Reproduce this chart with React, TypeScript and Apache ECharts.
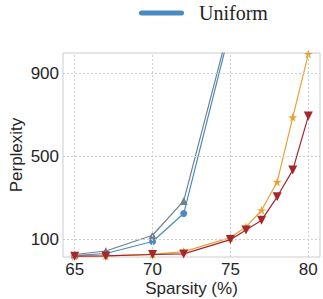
import React, { useEffect, useRef } from "react";
import * as echarts from "echarts";

const xTicks = [65, 70, 75, 80];
const yTicks = [100, 500, 900];

const uniformX = [65, 67, 70, 72, 75];
const uniformY = [21, 31, 89, 224, 1120];

const grayX = [65, 67, 70, 72, 75];
const grayY = [26, 43, 119, 285, 1150];

const orangeX = [65, 67, 70, 72, 75, 76, 77, 78, 79, 80];
const orangeY = [18, 19, 27, 40, 108, 160, 240, 377, 689, 995];

const redX = [65, 67, 70, 72, 75, 76, 77, 78, 79, 80];
const redY = [18, 19, 26, 29, 98, 144, 192, 305, 434, 695];

const pairs = (xs: number[], ys: number[]) => xs.map((x, i) => [x, ys[i]]);

const SANS = "Liberation Sans";
const SERIF = "Liberation Serif";

export default function App() {
  const ref = useRef<HTMLDivElement>(null);
  useEffect(() => {
    if (!ref.current) return;
    const chart = echarts.init(ref.current, null, { renderer: "svg" });
    const gridStyle = { color: "#cfcfcf", width: 1, type: [2, 2] as any };
    chart.setOption({
      animation: false,
      backgroundColor: "#ffffff",
      legend: {
        data: ["Uniform"],
        left: 134,
        top: -2,
        itemWidth: 45,
        itemHeight: 5,
        icon: "path://M2.5,0 L42.5,0 A2.5,2.5 0 0 1 42.5,5 L2.5,5 A2.5,2.5 0 0 1 2.5,0 Z",
        textStyle: {
          fontFamily: SERIF,
          fontSize: 20,
          color: "#222222",
          padding: [0, 0, 0, 10],
        },
      },
      grid: {
        left: 63,
        top: 53,
        right: 3,
        bottom: 42,
        show: true,
        borderColor: "#cccccc",
        borderWidth: 1,
        containLabel: false,
        outerBoundsMode: "none",
      },
      xAxis: {
        type: "value",
        min: 64.25,
        max: 80.75,
        axisLine: { show: false },
        axisTick: { show: false },
        splitLine: { show: false },
        axisLabel: {
          customValues: xTicks,
          fontFamily: SANS,
          fontSize: 17,
          color: "#262626",
          margin: 4,
        },
        name: "Sparsity (%)",
        nameLocation: "middle",
        nameGap: 23,
        nameMoveOverlap: false,
        nameTextStyle: { fontFamily: SANS, fontSize: 17, color: "#262626", verticalAlign: "top" },
      },
      yAxis: {
        type: "value",
        min: 14,
        max: 1000,
        axisLine: { show: false },
        axisTick: { show: false },
        splitLine: { show: false },
        axisLabel: {
          customValues: yTicks,
          fontFamily: SANS,
          fontSize: 17,
          color: "#262626",
          margin: 4,
        },
        name: "Perplexity",
        nameLocation: "middle",
        nameRotate: 90,
        nameGap: 38,
        nameMoveOverlap: false,
        nameTextStyle: { fontFamily: SANS, fontSize: 17, color: "#262626" },
      },
      series: [
        {
          name: "grid",
          type: "line",
          data: [],
          silent: true,
          markLine: {
            silent: true,
            symbol: ["none", "none"],
            label: { show: false },
            lineStyle: gridStyle,
            data: [
              ...xTicks.map((v) => ({ xAxis: v })),
              ...yTicks.map((v) => ({ yAxis: v })),
            ],
          },
          z: 0,
        },
        {
          name: "Uniform",
          type: "line",
          data: pairs(uniformX, uniformY),
          color: "#4a8ac2",
          lineStyle: { width: 1.2, color: "#4a8ac2" },
          itemStyle: { color: "#4a8ac2" },
          symbol: "circle",
          symbolSize: 7,
          z: 2,
        },
        {
          name: "Gray",
          type: "line",
          data: pairs(grayX, grayY),
          lineStyle: { width: 1.2, color: "#6f8194" },
          itemStyle: { color: "#6f8194" },
          symbol: "triangle",
          symbolSize: 8,
          z: 3,
        },
        {
          name: "Orange",
          type: "line",
          data: pairs(orangeX, orangeY),
          lineStyle: { width: 1.2, color: "#e8a23a" },
          itemStyle: { color: "#e8a23a" },
          symbol: "path://M50,0 L61.8,35.1 L98.9,35.1 L68.9,57 L80.3,92.3 L50,70.4 L19.7,92.3 L31.1,57 L1.1,35.1 L38.2,35.1 Z",
          symbolSize: 9,
          z: 4,
        },
        {
          name: "Red",
          type: "line",
          data: pairs(redX, redY),
          lineStyle: { width: 1.2, color: "#a8262a" },
          itemStyle: { color: "#a8262a" },
          symbol: "triangle",
          symbolRotate: 180,
          symbolSize: 9,
          z: 5,
        },
      ],
    });
    return () => chart.dispose();
  }, []);
  return (
    <div
      ref={ref}
      style={{ position: "absolute", left: 0, top: 0, width: 323, height: 299 }}
    />
  );
}
